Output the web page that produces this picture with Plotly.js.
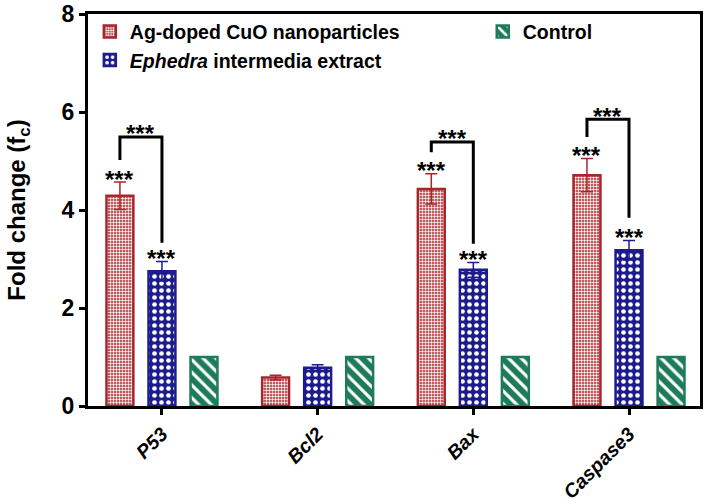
<!DOCTYPE html>
<html>
<head>
<meta charset="utf-8">
<script src="https://cdn.plot.ly/plotly-3.0.1.min.js"></script>
<style>
  html, body { margin: 0; padding: 0; background: #fff; }
  #myPlot { width: 705px; height: 504px; }
</style>
</head>
<body>
<div id="myPlot"></div>
<script>
const categories = ['P53', 'Bcl2', 'Bax', 'Caspase3'];

const agValues = [4.29, 0.58, 4.43, 4.71];
const agErr = [0.28, 0.05, 0.31, 0.34];
const ephValues = [2.75, 0.78, 2.78, 3.18];
const ephErr = [0.20, 0.06, 0.15, 0.20];
const controlValues = [1, 1, 1, 1];

// significance marks (true = "***")
const agStars = [true, false, true, true];
const ephStars = [true, false, true, true];

// bracket between Ag and Ephedra: top, left leg end, right leg end
const bracketTop = [5.49, null, 5.39, 5.85];
const bracketLeft = [5.02, null, 5.18, 5.49];
const bracketRight = [3.33, null, 3.31, 3.84];

const font = 'Liberation Sans, Arial, sans-serif';
const red = '#a8262b', blue = '#1c1c8c', green = '#1e7b5a';

const bargap = 0.19;
const slot = (1 - bargap) / 3;
const starFont = {family: font, size: 24, weight: 'bold', color: '#000'};

const data = [{
    type: 'bar', x: categories, y: agValues,
    name: 'Ag-doped CuO nanoparticles', legend: 'legend', legendrank: 1,
    marker: {color: red, line: {color: red, width: 2.5},
        pattern: {shape: '.', bgcolor: red, fgcolor: '#ffffff', size: 3, solidity: 0.5}},
    error_y: {type: 'data', array: agErr, visible: true, color: red, thickness: 1.5, width: 6}
}, {
    type: 'bar', x: categories, y: ephValues,
    name: '<i>Ephedra</i> intermedia extract', legend: 'legend', legendrank: 2,
    marker: {color: blue, line: {color: blue, width: 2.5},
        pattern: {shape: '.', bgcolor: blue, fgcolor: '#ffffff', size: 7, solidity: 0.35}},
    error_y: {type: 'data', array: ephErr, visible: true, color: blue, thickness: 1.5, width: 6}
}, {
    type: 'bar', x: categories, y: controlValues,
    name: 'Control', legend: 'legend2',
    marker: {color: green, line: {color: green, width: 2.5},
        pattern: {shape: '\\', bgcolor: green, fgcolor: '#ffffff', size: 9, solidity: 0.35}}
}];

const shapes = [];
const annotations = [];
categories.forEach((c, i) => {
    if (agStars[i]) {
        annotations.push({x: i - slot, y: agValues[i] + agErr[i], text: '***', showarrow: false,
            yanchor: 'middle', yshift: 3, font: starFont});
    }
    if (ephStars[i]) {
        annotations.push({x: i, y: ephValues[i] + ephErr[i], text: '***', showarrow: false,
            yanchor: 'middle', yshift: 3, font: starFont});
    }
    if (bracketTop[i] !== null) {
        const x1 = i - slot, x2 = i;
        shapes.push({type: 'path', xref: 'x', yref: 'y',
            path: `M${x1},${bracketLeft[i]} L${x1},${bracketTop[i]} L${x2},${bracketTop[i]} L${x2},${bracketRight[i]}`,
            line: {color: '#000', width: 3}});
        annotations.push({x: (x1 + x2) / 2, y: bracketTop[i], text: '***', showarrow: false,
            yanchor: 'middle', yshift: 3, font: starFont});
    }
});

const layout = {
    width: 705, height: 504,
    margin: {l: 88, r: 5, t: 14, b: 98},
    paper_bgcolor: '#fff', plot_bgcolor: '#fff',
    font: {family: font, color: '#000'},
    barmode: 'group', bargap: bargap, bargroupgap: 0.36,
    showlegend: true,
    legend: {x: 0.003, y: 1.004, xanchor: 'left', yanchor: 'top', orientation: 'v',
        bgcolor: 'rgba(0,0,0,0)', font: {family: font, size: 19.5, weight: 'bold'}},
    legend2: {x: 0.645, y: 1.004, xanchor: 'left', yanchor: 'top', orientation: 'v',
        bgcolor: 'rgba(0,0,0,0)', font: {family: font, size: 19.5, weight: 'bold'}},
    xaxis: {
        type: 'category', range: [-0.475, 3.456],
        showline: true, linewidth: 3, linecolor: '#000', mirror: true,
        ticks: 'outside', ticklen: 6, tickwidth: 3, tickcolor: '#000',
        tickangle: -45,
        tickfont: {family: font, size: 19.5, weight: 'bold', style: 'italic'},
        showgrid: false, zeroline: false
    },
    yaxis: {
        range: [0, 8], tickvals: [0, 2, 4, 6, 8],
        showline: true, linewidth: 3, linecolor: '#000', mirror: true,
        ticks: 'outside', ticklen: 6, tickwidth: 3, tickcolor: '#000',
        tickfont: {family: font, size: 23, weight: 'bold'},
        ticklabeloverflow: 'allow',
        showgrid: false, zeroline: false,
        title: {text: 'Fold change (f<sub>c</sub>)', standoff: 30,
            font: {family: font, size: 24, weight: 'bold'}}
    },
    shapes: shapes,
    annotations: annotations
};

Plotly.newPlot('myPlot', data, layout, {displaylogo: false, displayModeBar: false});
</script>
</body>
</html>
